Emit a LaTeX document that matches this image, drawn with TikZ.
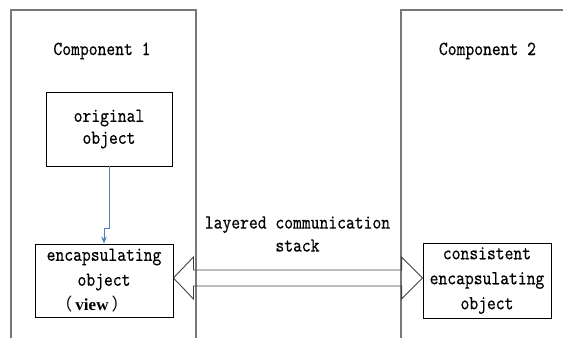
\documentclass[tikz,border=0pt]{standalone}
\usepackage{fontspec}
\setmonofont{lmmono10-regular.otf}[FakeStretch=0.84,FakeBold=0.35]
\newfontfamily\boldserif{Liberation Serif}
\newfontfamily\cjk{Noto Sans CJK SC}
\usetikzlibrary{calc,arrows.meta}
\definecolor{framegray}{RGB}{120,120,120}
\definecolor{linkblue}{RGB}{79,129,189}
\begin{document}
\begin{tikzpicture}[x=1pt,y=-1pt,
  frame/.style={draw=framegray, line width=1.1pt},
  objbox/.style={draw=black, line width=0.9pt, inner sep=0pt, align=center},
  lbl/.style={font=\ttfamily\fontsize{20}{23}\selectfont, align=center, inner sep=0pt},
  link/.style={draw=linkblue, line width=1pt, -{Stealth[length=7pt,width=5.5pt]}},
  bigarrow/.style={draw=black!75, line width=0.9pt, line join=miter}]
\useasboundingbox (0,0) rectangle (563,338);
% component frames (open at bottom / right)
\draw[frame] (11,338) -- (11,10) -- (196,10) -- (196,338);
\draw[frame] (401,338) -- (401,10) -- (563,10);
% labels
\node[lbl, anchor=base] (c1) at (102,55) {Component 1};
\node[lbl, anchor=base] (c2) at (487.5,55) {Component 2};
\node[lbl] (stack) at (297.5,234) {layered communication\\stack};
% boxes
\node[objbox, minimum width=126pt, minimum height=74pt,
      font=\ttfamily\fontsize{20}{22}\selectfont] (orig) at (109,129) {original\\object};
\node[objbox, minimum width=138pt, minimum height=73pt,
      font=\ttfamily\fontsize{20}{25}\selectfont] (encaps) at (104,280.5)
      {encapsulating\\object\\{\fontsize{17}{25}\selectfont\cjk （\hspace{3pt}}{\fontsize{17}{25}\selectfont\boldserif\bfseries view}{\fontsize{17}{25}\selectfont\cjk \hspace{3pt}）}\hspace*{24pt}};
\node[objbox, minimum width=128pt, minimum height=75pt,
      font=\ttfamily\fontsize{20}{25}\selectfont] (cons) at (487,280.5)
      {consistent\\encapsulating\\object};
% blue link
\coordinate (bend) at (0,228);
\draw[link] (orig.south) -- (orig.south |- bend) -| (encaps.north);
% double arrow
\coordinate (L) at ($(encaps.east)+(0,-2.5)$);
\coordinate (R) at ($(cons.west)+(0,-2.5)$);
\draw[bigarrow] (L) -- ++(20,-21) -- ++(0,13) -- ($(R)+(-21,-8)$) -- ++(0,-13) -- (R)
  -- ++(-21,21) -- ++(0,-13) -- ($(L)+(20,8)$) -- ++(0,13) -- cycle;
\end{tikzpicture}
\end{document}
